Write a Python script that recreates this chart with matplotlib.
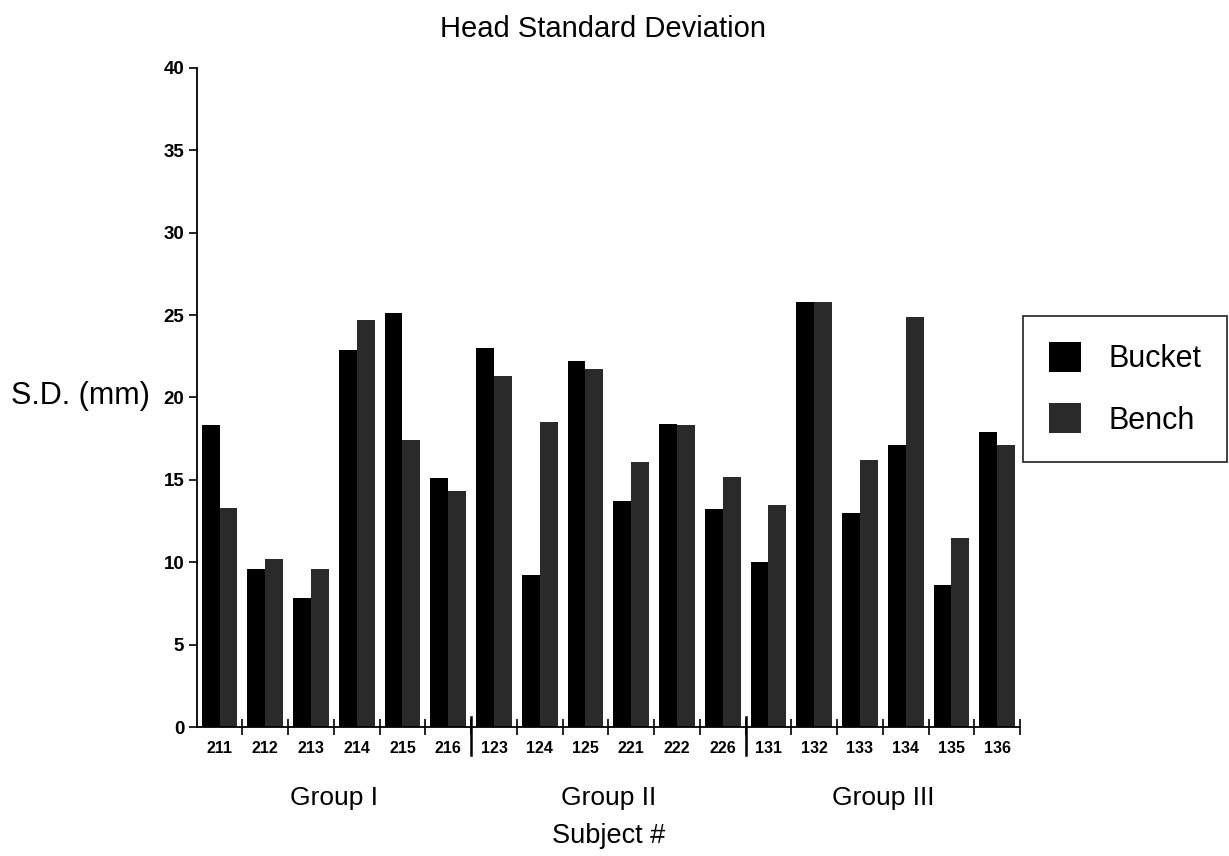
import matplotlib
matplotlib.use("Agg")
import matplotlib.pyplot as plt
import numpy as np

plt.rcParams['font.family'] = ['Liberation Sans', 'DejaVu Sans']

subjects = ["211", "212", "213", "214", "215", "216",
            "123", "124", "125", "221", "222", "226",
            "131", "132", "133", "134", "135", "136"]
bucket = [18.3, 9.6, 7.8, 22.9, 25.1, 15.1,
          23.0, 9.2, 22.2, 13.7, 18.4, 13.2,
          10.0, 25.8, 13.0, 17.1, 8.6, 17.9]
bench = [13.3, 10.2, 9.6, 24.7, 17.4, 14.3,
         21.3, 18.5, 21.7, 16.1, 18.3, 15.2,
         13.5, 25.8, 16.2, 24.9, 11.5, 17.1]
groups = ["Group I", "Group II", "Group III"]
yticks = [0, 5, 10, 15, 20, 25, 30, 35, 40]

fig = plt.figure(figsize=(12.29, 8.56), dpi=100)
ax = fig.add_axes([0.160, 0.1507, 0.670, 0.770])

x = np.arange(len(subjects))
w = 0.39
b1 = ax.bar(x - w / 2, bucket, width=w, color="#000000", label="Bucket")
b2 = ax.bar(x + w / 2, bench, width=w, color="#2a2a2a", label="Bench")

ax.set_xlim(-0.5, len(subjects) - 0.5)
ax.set_ylim(0, 40)
ax.set_yticks(yticks)
ax.set_yticklabels([str(v) for v in yticks], fontsize=13.5, fontweight='bold')
ax.tick_params(axis='y', direction='out', length=6, width=1.2, pad=3)

ax.set_xticks(x)
ax.set_xticklabels(subjects, fontsize=11.5, fontweight='bold')
ax.tick_params(axis='x', which='major', length=0, pad=10)
bounds = np.arange(0.5, len(subjects), 1.0)
ax.set_xticks(bounds, minor=True)
ax.tick_params(axis='x', which='minor', direction='inout', length=12, width=1.2)

for s in ['top', 'right']:
    ax.spines[s].set_visible(False)
ax.spines['left'].set_linewidth(1.3)
ax.spines['bottom'].set_linewidth(1.3)

# group separators
for b in [5.5, 11.5]:
    ax.plot([b, b], [0.6, -1.7], color='black', lw=1.8, clip_on=False,
            transform=ax.transData)

# group labels
for i, g in enumerate(groups):
    cx = i * 6 + 2.5
    ax.text(cx, -4.3, g, ha='center', va='center', fontsize=19,
            transform=ax.transData)
ax.text(8.5, -6.6, "Subject #", ha='center', va='center', fontsize=19.5,
        transform=ax.transData)

fig.text(0.4906, 0.966, "Head Standard Deviation", ha='center', va='center',
         fontsize=21)
fig.text(0.009, 0.537, "S.D. (mm)", ha='left', va='center', fontsize=22)

leg = fig.legend(handles=[b1, b2], labels=["Bucket", "Bench"],
                 loc='center', bbox_to_anchor=(0.9155, 0.546),
                 fontsize=22, frameon=True, fancybox=False, edgecolor='black',
                 handlelength=1.05, handleheight=1.15, labelspacing=0.95,
                 borderpad=0.85, handletextpad=0.9, borderaxespad=0)
leg.get_frame().set_linewidth(1.3)

fig.savefig("out.png", dpi=100)
